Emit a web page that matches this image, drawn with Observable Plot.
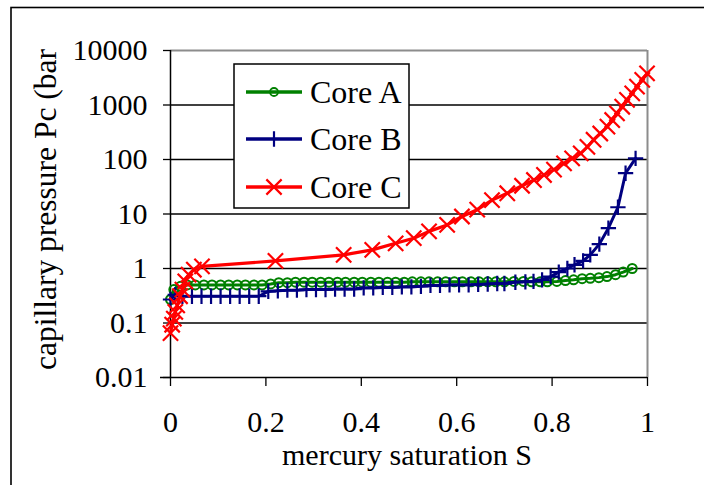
<!DOCTYPE html>
<html>
<head>
<meta charset="utf-8">
<script src="https://cdn.jsdelivr.net/npm/d3@7"></script>
<script src="https://cdn.jsdelivr.net/npm/@observablehq/plot@0.6"></script>
<style>
  html, body { margin: 0; padding: 0; background: #fff; }
  #chart svg { display: block; }
</style>
</head>
<body>
<div id="chart"></div>
<script>
// ---- data ----
const seriesNames = ["Core A", "Core B", "Core C"];
const seriesColors = ["#008000", "#000080", "#ff0000"];

const coreA_S = [0, 0.007, 0.021, 0.035, 0.052, 0.07, 0.087, 0.105, 0.122, 0.14, 0.157, 0.175, 0.192, 0.21, 0.227, 0.245, 0.262, 0.28, 0.297, 0.315, 0.332, 0.35, 0.367, 0.385, 0.402, 0.42, 0.437, 0.455, 0.472, 0.49, 0.507, 0.525, 0.542, 0.56, 0.577, 0.595, 0.612, 0.63, 0.647, 0.665, 0.682, 0.70, 0.72, 0.74, 0.757, 0.775, 0.79, 0.81, 0.828, 0.845, 0.863, 0.88, 0.898, 0.915, 0.933, 0.949, 0.968];
const coreA_Pc = [0.27, 0.41, 0.47, 0.5, 0.5, 0.5, 0.5, 0.5, 0.5, 0.5, 0.5, 0.5, 0.5, 0.52, 0.55, 0.55, 0.56, 0.56, 0.56, 0.56, 0.56, 0.56, 0.56, 0.56, 0.56, 0.56, 0.56, 0.56, 0.56, 0.56, 0.57, 0.57, 0.57, 0.57, 0.57, 0.57, 0.57, 0.57, 0.57, 0.57, 0.57, 0.57, 0.58, 0.58, 0.57, 0.57, 0.57, 0.58, 0.6, 0.62, 0.65, 0.66, 0.68, 0.71, 0.77, 0.86, 1.0];

const coreB_S = [0, 0.01, 0.025, 0.045, 0.065, 0.085, 0.105, 0.125, 0.145, 0.165, 0.185, 0.205, 0.225, 0.245, 0.265, 0.285, 0.305, 0.325, 0.345, 0.365, 0.385, 0.405, 0.425, 0.445, 0.465, 0.485, 0.505, 0.525, 0.545, 0.565, 0.585, 0.605, 0.625, 0.645, 0.665, 0.685, 0.70, 0.723, 0.744, 0.761, 0.779, 0.797, 0.814, 0.832, 0.847, 0.865, 0.88, 0.899, 0.918, 0.938, 0.954, 0.975];
const coreB_Pc = [0.27, 0.33, 0.31, 0.31, 0.31, 0.31, 0.31, 0.31, 0.31, 0.31, 0.31, 0.38, 0.39, 0.4, 0.4, 0.41, 0.41, 0.41, 0.42, 0.42, 0.42, 0.44, 0.44, 0.45, 0.45, 0.46, 0.46, 0.47, 0.49, 0.49, 0.5, 0.5, 0.5, 0.51, 0.52, 0.53, 0.53, 0.56, 0.57, 0.58, 0.62, 0.71, 0.86, 1.0, 1.17, 1.38, 1.78, 2.8, 5.5, 13.3, 56, 105];

const coreC_S = [0, 0.0035, 0.007, 0.01, 0.014, 0.02, 0.025, 0.031, 0.038, 0.049, 0.066, 0.22, 0.363, 0.423, 0.472, 0.51, 0.542, 0.58, 0.611, 0.643, 0.674, 0.706, 0.737, 0.762, 0.783, 0.804, 0.825, 0.842, 0.86, 0.874, 0.887, 0.901, 0.916, 0.926, 0.936, 0.947, 0.957, 0.968, 0.978, 0.989, 0.999];
const coreC_Pc = [0.065, 0.093, 0.12, 0.16, 0.21, 0.31, 0.41, 0.58, 0.77, 0.95, 1.09, 1.38, 1.78, 2.2, 2.9, 3.6, 4.8, 6.3, 9, 12, 18, 24, 33, 42, 52, 65, 85, 105, 130, 170, 230, 300, 400, 530, 700, 930, 1240, 1640, 2180, 2900, 3800];

const xTicks = [0, 0.2, 0.4, 0.6, 0.8, 1];
const xTickLabels = ["0", "0.2", "0.4", "0.6", "0.8", "1"];
const yTicks = [0.01, 0.1, 1, 10, 100, 1000, 10000];
const yTickLabels = ["0.01", "0.1", "1", "10", "100", "1000", "10000"];
const xLabel = "mercury saturation S";
const yLabel = "capillary pressure Pc (bar";

// ---- build tables ----
const toRows = (S, P) => S.map((s, i) => ({S: s, Pc: P[i]}));
const A = toRows(coreA_S, coreA_Pc);
const B = toRows(coreB_S, coreB_Pc);
const C = toRows(coreC_S, coreC_Pc);

const font = "'Liberation Serif', 'Times New Roman', serif";
const xFmt = d => xTickLabels[xTicks.indexOf(d)];
const yFmt = d => yTickLabels[yTicks.indexOf(d)];

const chart = Plot.plot({
  width: 704,
  height: 485,
  marginLeft: 170,
  marginRight: 57,
  marginTop: 50,
  marginBottom: 108,
  style: {fontFamily: font, fontSize: "30px", color: "#000", background: "#fff", overflow: "visible"},
  x: {domain: [0, 1]},
  y: {type: "log", domain: [0.01, 10000]},
  marks: [
    Plot.ruleY(yTicks.slice(1, -1), {stroke: "#000", strokeWidth: 1.3}),
    Plot.ruleY([yTicks[yTicks.length - 1]], {stroke: "#8c8c8c", strokeWidth: 2}),
    Plot.ruleX([1], {stroke: "#8c8c8c", strokeWidth: 2}),
    Plot.ruleX([0], {stroke: "#000", strokeWidth: 1.5}),
    Plot.ruleY([0.01], {stroke: "#000", strokeWidth: 1.5, insetLeft: -10}),
    Plot.axisY({ticks: yTicks, tickFormat: yFmt, tickSize: 7, tickPadding: 16, label: null, strokeWidth: 1.3, fontSize: 30, fill: "#000"}),
    Plot.axisX({ticks: xTicks, tickFormat: xFmt, tickSize: 9, tickPadding: 24, label: null, strokeWidth: 1.3, fontSize: 30, fill: "#000"}),
    Plot.line(A, {x: "S", y: "Pc", stroke: seriesColors[0], strokeWidth: 3}),
    Plot.dot(A, {x: "S", y: "Pc", symbol: "circle", r: 4.5, stroke: seriesColors[0], strokeWidth: 2, fill: "none"}),
    Plot.line(B, {x: "S", y: "Pc", stroke: seriesColors[1], strokeWidth: 3}),
    Plot.dot(B, {x: "S", y: "Pc", symbol: "plus", r: 5, stroke: seriesColors[1], strokeWidth: 2.2}),
    Plot.line(C, {x: "S", y: "Pc", stroke: seriesColors[2], strokeWidth: 3.2}),
    Plot.dot(C, {x: "S", y: "Pc", symbol: "times", r: 7, stroke: seriesColors[2], strokeWidth: 2.2})
  ]
});

document.getElementById("chart").appendChild(chart);

// ---- decorations: frame, axis titles, legend ----
const svg = d3.select(chart);

svg.append("rect")
  .attr("x", 11).attr("y", 7.5).attr("width", 800).attr("height", 600)
  .attr("fill", "none").attr("stroke", "#000").attr("stroke-width", 1.6);

svg.append("text")
  .attr("x", 407).attr("y", 465)
  .attr("text-anchor", "middle")
  .style("font-family", font).style("font-size", "30px").attr("fill", "#000")
  .text(xLabel);

svg.append("text")
  .attr("transform", "translate(56,370) rotate(-90)")
  .attr("text-anchor", "start")
  .style("font-family", font).style("font-size", "31.5px").attr("fill", "#000")
  .text(yLabel);

const legend = svg.append("g");
legend.append("rect")
  .attr("x", 234).attr("y", 64).attr("width", 175).attr("height", 144)
  .attr("fill", "#fff").attr("stroke", "#000").attr("stroke-width", 1.5);

const symbols = [
  {type: d3.symbolCircle, size: Math.PI * 16, w: 1.8},
  {type: d3.symbolPlus, size: Math.PI * 25, w: 2.2},
  {type: d3.symbolTimes, size: Math.PI * 49, w: 2.2}
];
const rowY = [92, 139, 187];
seriesNames.forEach((name, i) => {
  const y = rowY[i];
  legend.append("line")
    .attr("x1", 246).attr("x2", 302).attr("y1", y).attr("y2", y)
    .attr("stroke", seriesColors[i]).attr("stroke-width", 3.5);
  legend.append("path")
    .attr("transform", `translate(274,${y})`)
    .attr("d", d3.symbol(symbols[i].type, symbols[i].size)())
    .attr("fill", "none").attr("stroke", seriesColors[i]).attr("stroke-width", symbols[i].w);
  legend.append("text")
    .attr("x", 310).attr("y", y + 11)
    .attr("text-anchor", "start")
    .style("font-family", font).style("font-size", "32px").attr("fill", "#000")
    .text(name);
});
</script>
</body>
</html>
